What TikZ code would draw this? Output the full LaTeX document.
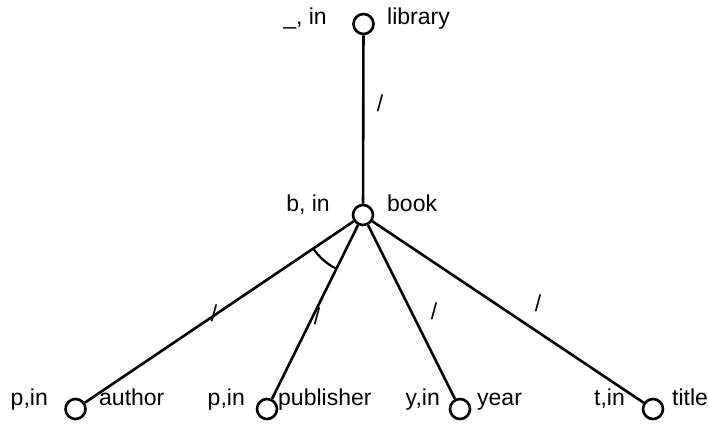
\documentclass[tikz,border=0pt]{standalone}
\usepackage{fontspec}
\setmainfont{Liberation Sans}
\begin{document}
\begin{tikzpicture}[x=1pt,y=1pt,
  vtx/.style={circle,draw,line width=2.6pt,minimum size=20pt,inner sep=0pt},
  edge/.style={line width=2.6pt},
  lbl/.style={inner sep=0pt,font=\fontsize{23}{27}\selectfont},
  lw/.style={lbl,anchor=base west},
  le/.style={lbl,anchor=base east},
  slash/.style={lbl,anchor=center}]
\useasboundingbox (0,0) rectangle (709,423);
\node[vtx] (library) at (363.5,399) {};
\node[vtx] (book) at (363,208) {};
\node[vtx] (author) at (75.5,14) {};
\node[vtx] (publisher) at (267,14) {};
\node[vtx] (year) at (460,14) {};
\node[vtx] (title) at (653,14) {};
\draw[edge] (library) -- (book);
\draw[edge] (book) -- (author);
\draw[edge] (book) -- (publisher);
\draw[edge] (book) -- (year);
\draw[edge] (book) -- (title);
\draw[edge,line width=2.2pt] ([shift={(214:60)}]book.center) arc[start angle=214,end angle=243.7,radius=60];
\node[le] (l1) at (327,398) {\_, in};
\node[lw] (l2) at (387,398) {library};
\node[le] (b1) at (330,211) {b, in};
\node[lw] (b2) at (387,211) {book};
\node[le] (a1) at (48,18) {p,in};
\node[lw] (a2) at (99,18) {author};
\node[le] (p1) at (245,18) {p,in};
\node[lw] (p2) at (278,18) {publisher};
\node[le] (y1) at (440,18) {y,in};
\node[lw] (y2) at (477,18) {year};
\node[le] (t1) at (625,18) {t,in};
\node[lw] (t2) at (672,18) {title};
\node[slash] (s1) at (380,320) {/};
\node[slash] (s2) at (214,110) {/};
\node[slash] (s3) at (317,107) {/};
\node[slash] (s4) at (434,112) {/};
\node[slash] (s5) at (538,120) {/};
\end{tikzpicture}
\end{document}
